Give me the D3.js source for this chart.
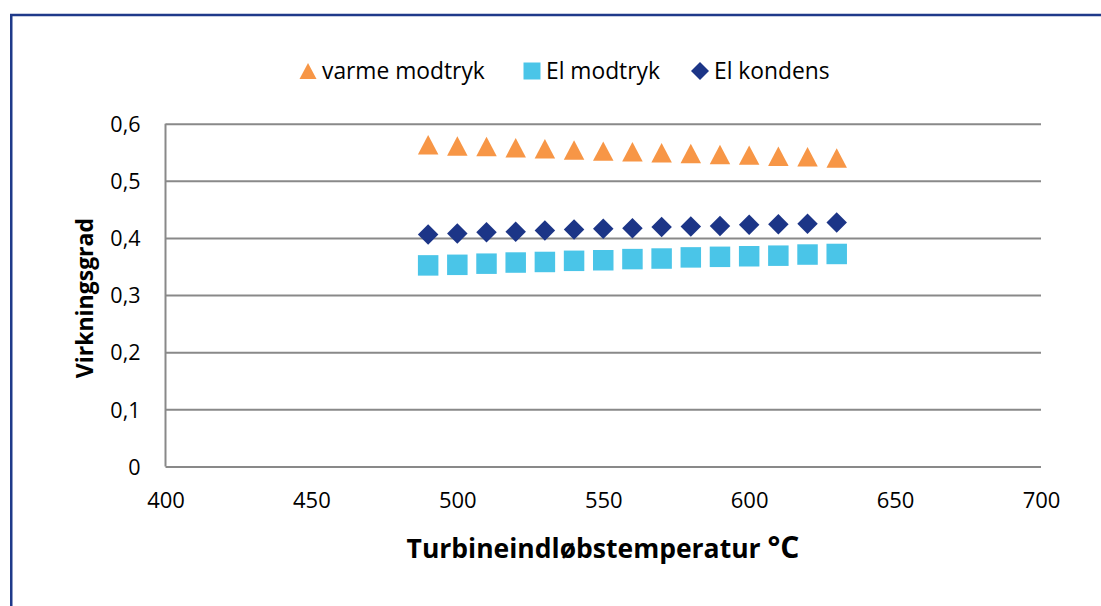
<!DOCTYPE html>
<html>
<head>
<meta charset="utf-8">
<script src="https://cdn.jsdelivr.net/npm/d3@7/dist/d3.min.js"></script>
<style>
  html, body { margin: 0; padding: 0; background: #fff; }
  svg { display: block; }
  text { font-family: "Open Sans", "Noto Sans", sans-serif; fill: #000; }
</style>
</head>
<body>
<svg id="chart" width="1101" height="606"></svg>
<script>
// Turbine inlet temperature (°C)
const temperatures = [490, 500, 510, 520, 530, 540, 550, 560, 570, 580, 590, 600, 610, 620, 630];

// Efficiency series
const varmeModtryk = [0.563, 0.561, 0.560, 0.558, 0.556, 0.554, 0.552, 0.551, 0.549, 0.548, 0.546, 0.545, 0.543, 0.542, 0.540];
const elModtryk    = [0.352, 0.353, 0.355, 0.357, 0.358, 0.360, 0.361, 0.363, 0.364, 0.366, 0.367, 0.368, 0.369, 0.371, 0.372];
const elKondens    = [0.406, 0.408, 0.410, 0.411, 0.413, 0.415, 0.416, 0.417, 0.419, 0.420, 0.421, 0.423, 0.424, 0.425, 0.427];

const seriesNames = ["varme modtryk", "El modtryk", "El kondens"];

// Axis ticks
const xTicks = [400, 450, 500, 550, 600, 650, 700];
const yTicks = [0, 0.1, 0.2, 0.3, 0.4, 0.5, 0.6];
const yTickLabels = ["0", "0,1", "0,2", "0,3", "0,4", "0,5", "0,6"];

const xTitle = "Turbineindløbstemperatur ";
const xTitleUnit = "°C";
const yTitle = "Virkningsgrad";

// Marker shapes: isosceles triangle centred on its bounding box, square, diamond
const triangleType = {
  draw(ctx, size) {
    const w = Math.sqrt(size), h = w * 0.95;
    ctx.moveTo(0, -h / 2);
    ctx.lineTo(w / 2, h / 2);
    ctx.lineTo(-w / 2, h / 2);
    ctx.closePath();
  }
};
const squareType = {
  draw(ctx, size) {
    const s = Math.sqrt(size) / 2;
    ctx.rect(-s, -s, 2 * s, 2 * s);
  }
};
const diamondType = {
  draw(ctx, size) {
    const r = Math.sqrt(size) / 2;
    ctx.moveTo(0, -r);
    ctx.lineTo(r, 0);
    ctx.lineTo(0, r);
    ctx.lineTo(-r, 0);
    ctx.closePath();
  }
};

const series = [
  { name: seriesNames[0], values: varmeModtryk, type: triangleType, color: "#F79646" },
  { name: seriesNames[1], values: elModtryk,    type: squareType,   color: "#4AC5E8" },
  { name: seriesNames[2], values: elKondens,    type: diamondType,  color: "#1C3587" }
];

const svg = d3.select("#chart");

// Frame around the chart
svg.append("path")
  .attr("d", "M11.25,606 L11.25,15 L1101,15")
  .attr("fill", "none")
  .attr("stroke", "#1F3A8A")
  .attr("stroke-width", 2.5);

const plot = { left: 165.5, right: 1041, top: 123.7, bottom: 466.5 };

const x = d3.scaleLinear().domain([400, 700]).range([plot.left, plot.right]);
const y = d3.scaleLinear().domain([0, 0.6]).range([plot.bottom, plot.top]);

// Horizontal gridlines (the 0 line doubles as the x axis)
const gridAxis = d3.axisLeft(y)
  .tickValues(yTicks)
  .tickSize(-(plot.right - plot.left))
  .tickFormat("");
const grid = svg.append("g")
  .attr("transform", `translate(${plot.left},0)`)
  .call(gridAxis);
grid.select(".domain").remove();
grid.selectAll(".tick line").attr("stroke", "#898989").attr("stroke-width", 2);

// Vertical axis line
svg.append("line")
  .attr("x1", plot.left).attr("x2", plot.left)
  .attr("y1", plot.top).attr("y2", plot.bottom)
  .attr("stroke", "#898989").attr("stroke-width", 2);

// Y tick labels
const yAxis = d3.axisLeft(y)
  .tickValues(yTicks)
  .tickSize(0)
  .tickPadding(25)
  .tickFormat((d, i) => yTickLabels[i]);
const yg = svg.append("g")
  .attr("transform", `translate(${plot.left},0)`)
  .call(yAxis);
yg.select(".domain").remove();
yg.selectAll("text")
  .attr("font-family", "Open Sans")
  .attr("font-size", 21.5)
  .attr("fill", "#000")
  .attr("dy", "0.36em");

// X tick labels
const xAxis = d3.axisBottom(x)
  .tickValues(xTicks)
  .tickSize(0)
  .tickPadding(26)
  .tickFormat(d3.format("d"));
const xg = svg.append("g")
  .attr("transform", `translate(0,${plot.bottom})`)
  .call(xAxis);
xg.select(".domain").remove();
xg.selectAll("text")
  .attr("font-family", "Open Sans")
  .attr("font-size", 22)
  .attr("fill", "#000");

// Axis titles
const xt = svg.append("text")
  .attr("x", 603)
  .attr("y", 558)
  .attr("text-anchor", "middle")
  .attr("font-weight", "bold")
  .attr("font-size", 26.5);
xt.append("tspan").text(xTitle);
xt.append("tspan").attr("font-size", 30).text(xTitleUnit);

svg.append("text")
  .attr("transform", `translate(93,${(plot.top + plot.bottom) / 2 + 3}) rotate(-90)`)
  .attr("text-anchor", "middle")
  .attr("font-weight", "bold")
  .attr("font-size", 23)
  .text(yTitle);

// Data markers
series.forEach(s => {
  svg.append("g")
    .selectAll("path")
    .data(temperatures.map((t, i) => [t, s.values[i]]))
    .join("path")
    .attr("transform", d => `translate(${x(d[0])},${y(d[1])})`)
    .attr("d", d3.symbol().type(s.type).size(420))
    .attr("fill", s.color);
});

// Legend
const legendItems = [
  { s: series[0], mx: 308, tx: 322 },
  { s: series[1], mx: 532, tx: 546 },
  { s: series[2], mx: 700, tx: 714 }
];
const legend = svg.append("g");
legendItems.forEach(item => {
  legend.append("path")
    .attr("transform", `translate(${item.mx},71)`)
    .attr("d", d3.symbol().type(item.s.type).size(item.s.type === diamondType ? 324 : 289))
    .attr("fill", item.s.color);
  legend.append("text")
    .attr("x", item.tx)
    .attr("y", 79)
    .attr("font-size", 22.8)
    .text(item.s.name);
});
</script>
</body>
</html>
